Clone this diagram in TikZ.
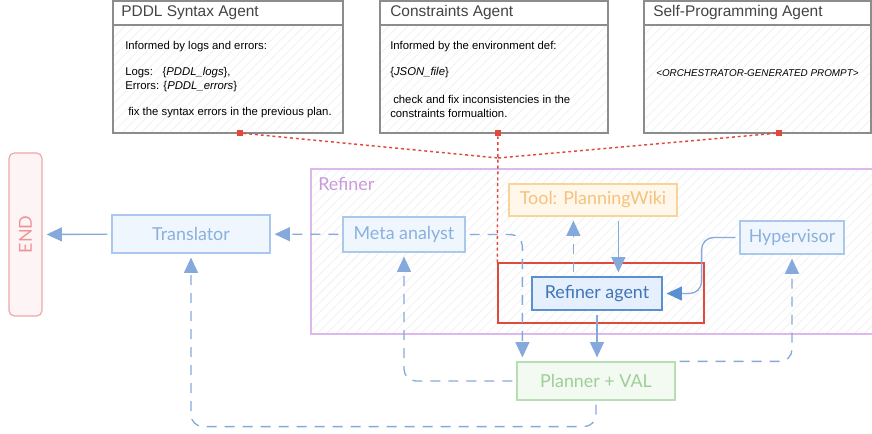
\documentclass[tikz,border=0pt]{standalone}
\usepackage{amsmath}
\usepackage{xcolor}
\usepackage{graphicx}
\usepackage{fontspec}
\setmainfont{Lato}
\newfontfamily\helv{Liberation Sans}
\usepackage{tikz}
\usetikzlibrary{arrows.meta,calc,patterns.meta}

\definecolor{bluefill}{HTML}{EFF6FE}
\definecolor{blueline}{HTML}{A9C8EC}
\definecolor{bluetext}{HTML}{8AB0DD}
\definecolor{flowblue}{HTML}{86A9DB}
\definecolor{agentfill}{HTML}{E6F0FC}
\definecolor{agentline}{HTML}{5A8FD0}
\definecolor{agenttext}{HTML}{3F74BA}
\definecolor{toolfill}{HTML}{FFF8EA}
\definecolor{toolline}{HTML}{F9D499}
\definecolor{tooltext}{HTML}{F5C27D}
\definecolor{planfill}{HTML}{F2FAF1}
\definecolor{planline}{HTML}{B8DEB3}
\definecolor{plantext}{HTML}{9FCE99}
\definecolor{endfill}{HTML}{FDF5F5}
\definecolor{endline}{HTML}{F0A8A8}
\definecolor{endtext}{HTML}{EE9494}
\definecolor{refline}{HTML}{DDB8EC}
\definecolor{reftext}{HTML}{C99BDD}
\definecolor{focusred}{HTML}{E04A3C}
\definecolor{boxgray}{HTML}{8C8C8C}
\definecolor{titlegray}{HTML}{444444}

\begin{document}
\begin{tikzpicture}[x=0.75pt,y=0.75pt,yscale=-1,xscale=1,
  hatch/.style={pattern={Lines[angle=45,distance=5pt,line width=0.4pt]},pattern color=black!7},
  mainfont/.style={font=\fontsize{13.4}{15}\selectfont},
  bluebox/.style={draw=blueline,fill=bluefill,text=bluetext,line width=0.9pt,inner sep=0pt,mainfont},
  agentbox/.style={draw=agentline,fill=agentfill,text=agenttext,line width=0.9pt,inner sep=0pt,mainfont},
  toolbox/.style={draw=toolline,fill=toolfill,text=tooltext,line width=0.9pt,inner sep=0pt,mainfont},
  planbox/.style={draw=planline,fill=planfill,text=plantext,line width=0.9pt,inner sep=0pt,mainfont},
  endbox/.style={draw=endline,fill=endfill,text=endtext,line width=0.9pt,inner sep=0pt,rounded corners=4pt,mainfont},
  titletext/.style={anchor=west,inner sep=0pt,text=titlegray,font=\helv\fontsize{11.6}{14}\selectfont},
  bodytext/.style={anchor=west,inner sep=0pt,font=\helv\fontsize{8.5}{10}\selectfont},
  marker/.style={fill=focusred,inner sep=0pt,minimum size=4.5pt},
  reddots/.style={draw=focusred,line width=1.1pt,dash pattern=on 2.2pt off 2.2pt},
  solidflow/.style={draw=flowblue,line width=1pt,shorten <=3pt,shorten >=3pt,-{Triangle[length=11.5pt,width=10.5pt]}},
  dashflow/.style={solidflow,dash pattern=on 7.5pt off 6pt,rounded corners=9pt}]
\useasboundingbox (0,0) rectangle (872,434);

\fill[white] (113,1) rectangle (343,133);
\fill[hatch] (113,25) rectangle (343,133);
\draw[boxgray,line width=1.1pt] (113,1) rectangle (343,133) (113,25) -- (343,25);
\fill[white] (380,1) rectangle (608,133);
\fill[hatch] (380,25) rectangle (608,133);
\draw[boxgray,line width=1.1pt] (380,1) rectangle (608,133) (380,25) -- (608,25);
\fill[white] (644,1) rectangle (871,133);
\fill[hatch] (644,25) rectangle (871,133);
\draw[boxgray,line width=1.1pt] (644,1) rectangle (871,133) (644,25) -- (871,25);

\node[titletext] (syntitle) at (121,13) {PDDL Syntax Agent};
\node[bodytext] (syna) at (125,47) {Informed by logs and errors:};
\node[bodytext] (synb) at (125,73) {\makebox[28pt][l]{Logs:}\{\textit{PDDL\_logs}\},};
\node[bodytext] (sync) at (125,87) {Errors: \{\textit{PDDL\_errors}\}};
\node[bodytext] (synd) at (128,113) {fix the syntax errors in the previous plan.};

\node[titletext] (contitle) at (390,13) {Constraints Agent};
\node[bodytext] (cona) at (390,47) {Informed by the environment def:};
\node[bodytext] (conb) at (390,73) {\{\textit{JSON\_file}\}};
\node[bodytext] (conc) at (393,99) {check and fix inconsistencies in the};
\node[bodytext] (cond) at (390,113) {constraints formualtion.};

\node[titletext] (selftitle) at (653,13) {Self-Programming Agent};
\node[bodytext,font=\helv\fontsize{7.4}{9}\selectfont] (selfa) at (656,73) {\textit{<ORCHESTRATOR-GENERATED PROMPT>}};

\fill[white] (311,169) rectangle (872,334);
\fill[hatch] (311,169) rectangle (872,334);
\draw[refline,line width=1.1pt] (872,169) -- (311,169) -- (311,334) -- (872,334);
\node[anchor=west,inner sep=0pt,text=reftext,mainfont] (reflabel) at (318,184) {Refiner};

\node[endbox,minimum width=24.75pt,minimum height=122.25pt] (end) at (25.5,234.5) {\rotatebox{90}{END}};
\node[bluebox,minimum width=118.5pt,minimum height=28.5pt] (trans) at (191,234) {Translator};
\node[bluebox,minimum width=91.5pt,minimum height=26.25pt] (meta) at (404,234.5) {Meta analyst};
\node[toolbox,minimum width=126pt,minimum height=24pt] (tool) at (593,200) {Tool: PlanningWiki};
\node[bluebox,minimum width=78pt,minimum height=24.75pt] (hyper) at (792,237.5) {Hypervisor};
\node[agentbox,minimum width=97.5pt,minimum height=24.75pt] (ragent) at (597,293.5) {Refiner agent};
\node[planbox,minimum width=118.5pt,minimum height=28.5pt] (planner) at (596,381) {Planner + VAL};
\node[draw=focusred,line width=1.1pt,inner sep=0pt,minimum width=154.5pt,minimum height=45pt] (focus) at (601,293) {};

\node[marker] (mk1) at (240,133) {};
\node[marker] (mk2) at (498,133) {};
\node[marker] (mk3) at (779,133) {};
\coordinate (join) at (498,158);
\draw[reddots] (mk1) -- (join);
\draw[reddots] (mk3) -- (join);
\draw[reddots] (mk2) -- (focus.north west);

\coordinate (tl1) at ($(tool.south west)+(65,0)$);
\coordinate (tl2) at ($(tool.south west)+(110,0)$);

\draw[solidflow] (trans) -- (end);
\draw[dashflow] (meta) -- (trans);
\draw[dashflow] (meta.east) -| ($(planner.north west)+(6,0)$);
\draw[dashflow] (planner.west) -| (meta.south);
\draw[dashflow] (planner.north east) -| (hyper.south);
\draw[dashflow] (planner.south) -- ++(0,26) -| (trans.south);
\draw[dashflow] (ragent.north -| tl1) -- (tl1);
\draw[solidflow] (tl2) -- (tl2 |- ragent.north);
\draw[solidflow] (ragent.south) -- (ragent.south |- planner.north);
\draw[solidflow,rounded corners=9pt,-{Triangle[length=11.5pt,width=10.5pt,fill=agentline,color=agentline]}] (hyper.west) -| ($(ragent.east)+(39,0)$) -- (ragent.east);
\end{tikzpicture}
\end{document}
